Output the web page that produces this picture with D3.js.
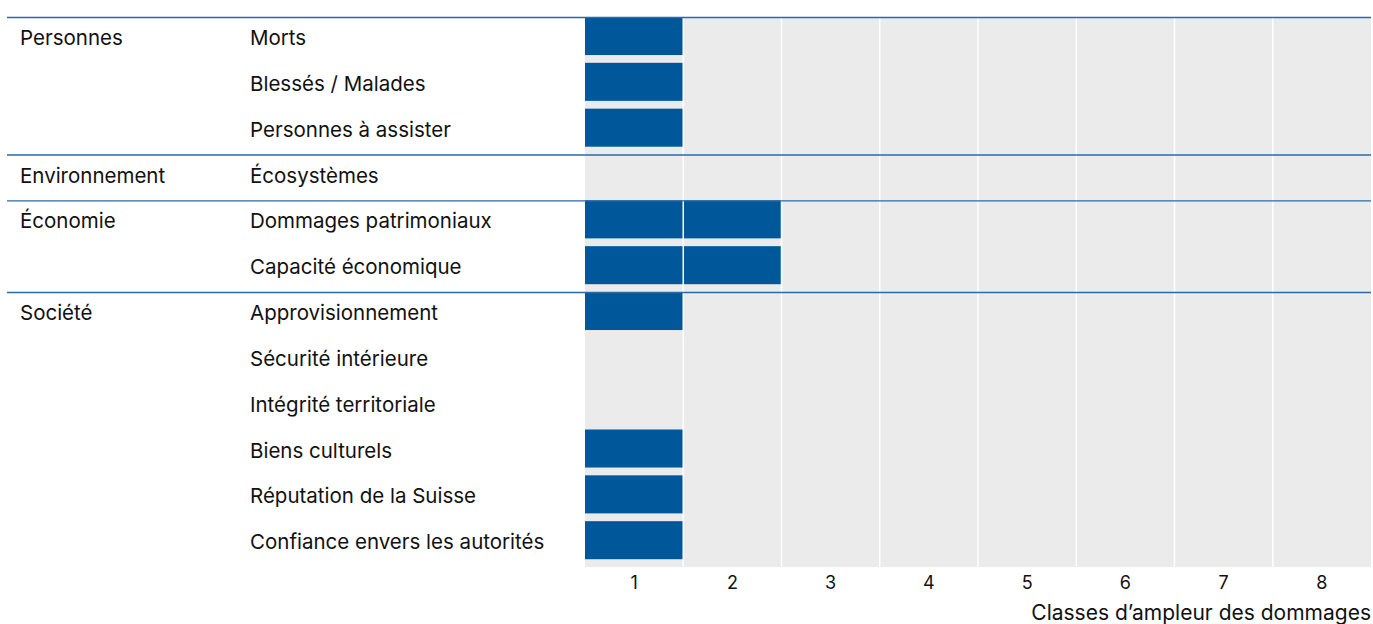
<!DOCTYPE html>
<html>
<head>
<meta charset="utf-8">
<script src="https://cdn.jsdelivr.net/npm/d3@7"></script>
<style>
  body { margin: 0; background: #fff; }
  svg text { font-family: Inter, "Noto Sans", sans-serif; fill: #111; }
</style>
</head>
<body>
<div id="chart"></div>
<script>
// data
const groups = ["Personnes", "Environnement", "Économie", "Société"];
const groupSizes = [3, 1, 2, 6];
const indicators = ["Morts", "Blessés / Malades", "Personnes à assister", "Écosystèmes",
  "Dommages patrimoniaux", "Capacité économique", "Approvisionnement", "Sécurité intérieure",
  "Intégrité territoriale", "Biens culturels", "Réputation de la Suisse", "Confiance envers les autorités"];
const damageClass = [1, 1, 1, 0, 2, 2, 1, 0, 0, 1, 1, 1];
const classLabels = ["1", "2", "3", "4", "5", "6", "7", "8"];
const axisTitle = "Classes d’ampleur des dommages";

var W = 1373, H = 624;
var margin = {top: 17, left: 585, right: 2, bottom: 57};

var svg = d3.select("#chart").append("svg")
    .attr("width", W)
    .attr("height", H);

var x = d3.scaleLinear().domain([0, classLabels.length]).range([margin.left, W - margin.right]);
var xb = d3.scaleBand().domain(classLabels).range([margin.left, W - margin.right]);
var y = d3.scaleBand().domain(indicators).range([margin.top, H - margin.bottom]).paddingInner(0).paddingOuter(0);

var step = y.step();
var barH = step * 0.83;

// grey backdrop
svg.append("rect")
    .attr("x", x(0))
    .attr("y", y.range()[0])
    .attr("width", x(8) - x(0))
    .attr("height", y.range()[1] - y.range()[0])
    .attr("fill", "#ebebeb");

// bars
svg.selectAll(".bar")
  .data(indicators)
  .enter().append("rect")
    .attr("class", "bar")
    .attr("x", x(0))
    .attr("y", d => y(d))
    .attr("width", (d, i) => x(damageClass[i]) - x(0))
    .attr("height", barH)
    .attr("fill", "#00589b");

// white column dividers over everything
svg.selectAll(".colline")
  .data(d3.range(1, classLabels.length))
  .enter().append("line")
    .attr("x1", d => x(d))
    .attr("x2", d => x(d))
    .attr("y1", y.range()[0])
    .attr("y2", y.range()[1])
    .attr("stroke", "#fff")
    .attr("stroke-width", 1.5);

// group separator lines
var starts = [];
var acc = 0;
groupSizes.forEach(n => { starts.push(acc); acc += n; });

svg.selectAll(".sep")
  .data(starts)
  .enter().append("line")
    .attr("x1", 7)
    .attr("x2", W - margin.right)
    .attr("y1", d => y(indicators[d]) + 0.5)
    .attr("y2", d => y(indicators[d]) + 0.5)
    .attr("stroke", "#2c6aa6")
    .attr("stroke-width", 1.3);

// group labels
svg.selectAll(".grp")
  .data(groups)
  .enter().append("text")
    .attr("x", 20)
    .attr("y", (d, i) => y(indicators[starts[i]]) + 28)
    .style("font-size", "20.5px")
    .text(d => d);

// indicator labels
svg.selectAll(".ind")
  .data(indicators)
  .enter().append("text")
    .attr("x", 250)
    .attr("y", d => y(d) + 28)
    .style("font-size", "20.5px")
    .text(d => d);

// class axis
var axis = svg.append("g")
    .attr("transform", "translate(0," + y.range()[1] + ")")
    .call(d3.axisBottom(xb).tickSize(0).tickPadding(9));
axis.select(".domain").remove();
axis.selectAll("text")
    .style("font-size", "18px")
    .style("font-family", "Inter, sans-serif")
    .attr("fill", "#111");

svg.append("text")
    .attr("x", W - margin.right)
    .attr("y", 620)
    .attr("text-anchor", "end")
    .style("font-size", "21px")
    .text(axisTitle);
</script>
</body>
</html>
